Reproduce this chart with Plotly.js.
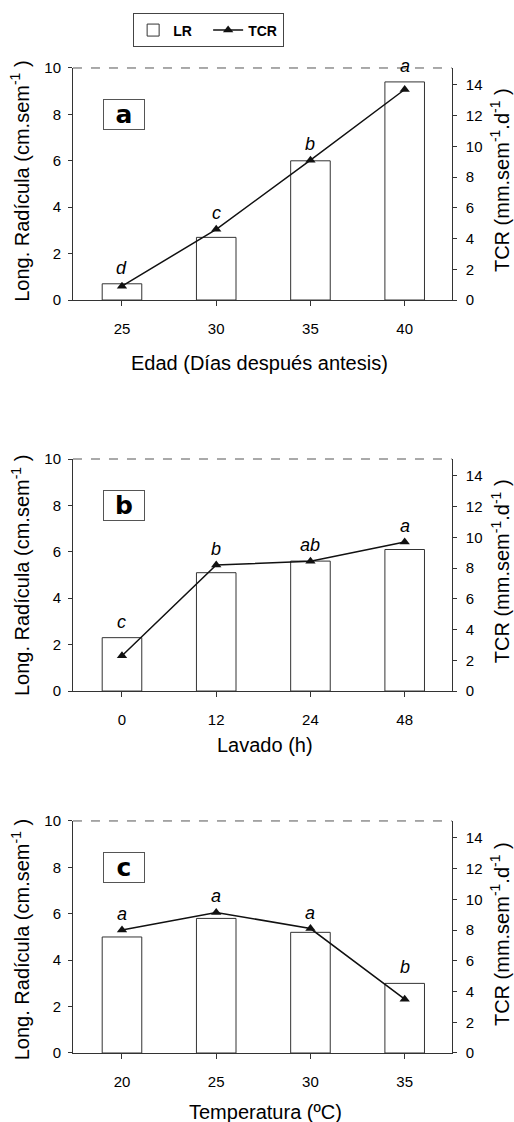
<!DOCTYPE html>
<html>
<head>
<meta charset="utf-8">
<script src="https://cdn.plot.ly/plotly-3.0.1.min.js"></script>
<style>html,body{margin:0;padding:0;background:#fff;}#chart{width:514px;height:1122px;}</style>
</head>
<body>
<div id="chart"></div>
<script>
// ---- data ----
const catA = ['25', '30', '35', '40'];
const lrA  = [0.7, 2.7, 6.0, 9.4];
const tcrA = [0.9, 4.6, 9.1, 13.7];
const sigA = ['d', 'c', 'b', 'a'];

const catB = ['0', '12', '24', '48'];
const lrB  = [2.3, 5.1, 5.6, 6.1];
const tcrB = [2.3, 8.2, 8.45, 9.7];
const sigB = ['c', 'b', 'ab', 'a'];

const catC = ['20', '25', '30', '35'];
const lrC  = [5.0, 5.8, 5.2, 3.0];
const tcrC = [8.0, 9.15, 8.1, 3.5];
const sigC = ['a', 'a', 'a', 'b'];

const leftTicks  = [0, 2, 4, 6, 8, 10];
const rightTicks = [0, 2, 4, 6, 8, 10, 12, 14];
const xTitles = ['Edad (Días después antesis)', 'Lavado (h)', 'Temperatura (ºC)'];
const panelLabels = ['a', 'b', 'c'];
const yLeftTitle = 'Long. Radícula (cm.sem<sup>-1</sup> )';
const yRightTitle = 'TCR (mm.sem<sup>-1</sup>.d<sup>-1</sup> )';
const seriesNames = ['LR', 'TCR'];

// ---- layout helpers ----
const FONT = 'Liberation Sans, Arial, Helvetica, sans-serif';
const LEFT_MAX = 10, RIGHT_MAX = 15.1;
const ratio = RIGHT_MAX / LEFT_MAX;
const xDom = [0.142, 0.879];
const yDoms = [[0.7326, 0.9394], [0.3841, 0.5909], [0.0615, 0.2683]];
const xTitlePos = [[0.505, 0.6765], [0.515, 0.336], [0.517, 0.0089]];
const yLTitlePos = [0.838, 0.4866, 0.162];
const yRTitlePos = [0.8396, 0.491, 0.1676];

const panels = [
  {cat: catA, lr: lrA, tcr: tcrA, sig: sigA},
  {cat: catB, lr: lrB, tcr: tcrB, sig: sigB},
  {cat: catC, lr: lrC, tcr: tcrC, sig: sigC}
];

const traces = [];
const layout = {
  width: 514, height: 1122,
  margin: {l: 0, r: 0, t: 0, b: 0, pad: 0},
  paper_bgcolor: '#fff', plot_bgcolor: '#fff',
  font: {family: FONT, color: '#000', size: 15},
  showlegend: true,
  legend: {
    orientation: 'h', x: 0.259, y: 0.988, xanchor: 'left', yanchor: 'top',
    bordercolor: '#444', borderwidth: 1, font: {size: 14, family: FONT, color: '#000', weight: 'bold'},
    entrywidth: 30, itemwidth: 30, tracegroupgap: 0
  },
  annotations: [],
  shapes: []
};

panels.forEach((p, i) => {
  const xn = i === 0 ? '' : String(i + 1);
  const yl = i === 0 ? '' : String(2 * i + 1);
  const yr = String(2 * i + 2);
  const xKey = 'xaxis' + xn, ylKey = 'yaxis' + yl, yrKey = 'yaxis' + yr;
  const xRef = 'x' + xn, ylRef = 'y' + yl, yrRef = 'y' + yr;

  traces.push({
    type: 'bar', x: p.cat, y: p.lr, xaxis: xRef, yaxis: ylRef,
    name: seriesNames[0], legendgroup: 'lr', showlegend: i === 0,
    width: 0.42,
    marker: {color: '#fff', line: {color: '#333', width: 1}},
    hoverinfo: 'skip'
  });
  traces.push({
    type: 'scatter', mode: 'lines+markers', x: p.cat, y: p.tcr, xaxis: xRef, yaxis: yrRef,
    name: seriesNames[1], legendgroup: 'tcr', showlegend: i === 0,
    line: {color: '#111', width: 1.5},
    marker: {symbol: 'triangle-up', size: 9, color: '#111'},
    hoverinfo: 'skip'
  });

  layout[xKey] = {
    domain: xDom, anchor: ylRef, type: 'category', range: [-0.52, 3.5],
    showline: true, linecolor: '#333', linewidth: 1, mirror: false,
    ticks: 'outside', ticklen: 5, tickcolor: '#333',
    tickfont: {size: 15, family: FONT, color: '#000'},
    ticklabelstandoff: 10,
    showgrid: false, zeroline: false, fixedrange: true
  };
  layout[ylKey] = {
    domain: yDoms[i], anchor: xRef, range: [0, LEFT_MAX], tickvals: leftTicks,
    showline: true, linecolor: '#333', linewidth: 1,
    ticks: 'outside', ticklen: 4, tickcolor: '#333',
    tickfont: {size: 15, family: FONT, color: '#000'},
    ticklabelstandoff: 4,
    showgrid: false, zeroline: false, fixedrange: true
  };
  layout[yrKey] = {
    overlaying: ylRef, anchor: xRef, side: 'right', range: [0, RIGHT_MAX], tickvals: rightTicks,
    showline: true, linecolor: '#333', linewidth: 1,
    ticks: 'outside', ticklen: 4, tickcolor: '#333',
    tickfont: {size: 15, family: FONT, color: '#000'},
    ticklabelstandoff: 6,
    showgrid: false, zeroline: false, fixedrange: true
  };

  // dashed top frame
  layout.shapes.push({
    type: 'line', xref: xRef + ' domain', yref: ylRef + ' domain',
    x0: 0, x1: 1, y0: 1, y1: 1, line: {color: '#555', width: 1, dash: 'dash'}
  });

  // significance letters (category index as x)
  p.cat.forEach((c, k) => {
    layout.annotations.push({
      xref: xRef, yref: yrRef, x: k, y: Math.max(p.tcr[k], p.lr[k] * ratio),
      text: p.sig[k], showarrow: false, yanchor: 'middle', yshift: 16,
      font: {size: 18, family: FONT, color: '#000', style: 'italic'}
    });
  });

  // panel label box
  layout.annotations.push({
    xref: xRef + ' domain', yref: ylRef + ' domain', x: 0.135, y: 0.80,
    xanchor: 'center', yanchor: 'middle',
    text: '<b>' + panelLabels[i] + '</b>', showarrow: false,
    width: 40, height: 29, borderpad: 0,
    bordercolor: '#555', borderwidth: 1,
    font: {size: 25, family: 'DejaVu Sans, ' + FONT, color: '#000'}
  });

  // x title
  layout.annotations.push({
    xref: 'paper', yref: 'paper', x: xTitlePos[i][0], y: xTitlePos[i][1],
    xanchor: 'center', yanchor: 'middle', showarrow: false,
    text: xTitles[i], font: {size: 20, family: FONT, color: '#000'}
  });
  // left y title
  layout.annotations.push({
    xref: 'paper', yref: 'paper', x: 0.039, y: yLTitlePos[i],
    xanchor: 'center', yanchor: 'middle', showarrow: false, textangle: -90,
    text: yLeftTitle, font: {size: 20, family: FONT, color: '#000'}
  });
  // right y title
  layout.annotations.push({
    xref: 'paper', yref: 'paper', x: 0.973, y: yRTitlePos[i],
    xanchor: 'center', yanchor: 'middle', showarrow: false, textangle: -90,
    text: yRightTitle, font: {size: 20, family: FONT, color: '#000'}
  });
});

Plotly.newPlot('chart', traces, layout, {staticPlot: true, displayModeBar: false});
</script>
</body>
</html>
